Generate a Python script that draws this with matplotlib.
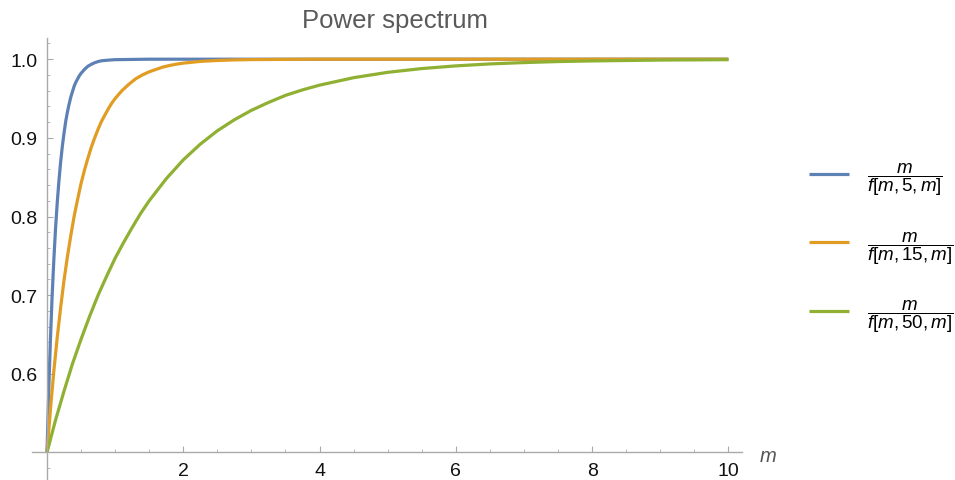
import numpy as np
import matplotlib
matplotlib.use("Agg")
import matplotlib.pyplot as plt
from matplotlib.ticker import FixedLocator

plt.rcParams["font.family"] = ["Liberation Sans", "DejaVu Sans"]
plt.rcParams["mathtext.fontset"] = "custom"
plt.rcParams["mathtext.rm"] = "Liberation Sans"
plt.rcParams["mathtext.it"] = "Liberation Sans:italic"

# values
m_blue = [0, 0.025, 0.05, 0.075, 0.1, 0.125, 0.15, 0.175, 0.2, 0.225, 0.25, 0.275, 0.3, 0.325, 0.35, 0.375,
          0.4, 0.425, 0.45, 0.475, 0.5, 0.55, 0.6, 0.65, 0.7, 0.75, 0.8, 0.9, 1.0, 1.5, 2, 4, 6, 8, 10]
v_blue = [0.5, 0.577, 0.642, 0.698, 0.744, 0.784, 0.817, 0.845, 0.869, 0.889, 0.906, 0.921, 0.933, 0.943, 0.952, 0.959,
          0.966, 0.971, 0.975, 0.979, 0.982, 0.987, 0.991, 0.9935, 0.9955, 0.997, 0.998, 0.9988, 0.9994, 1.0, 1.0, 1.0, 1.0, 1.0, 1.0]

m_orange = [0, 0.05, 0.1, 0.15, 0.2, 0.25, 0.3, 0.35, 0.4, 0.45, 0.5, 0.55, 0.6, 0.65, 0.7, 0.75, 0.8, 0.85, 0.9, 0.95,
            1.0, 1.1, 1.2, 1.3, 1.4, 1.5, 1.6, 1.7, 1.8, 1.9, 2.0, 2.25, 2.5, 2.75, 3, 3.5, 4, 6, 8, 10]
v_orange = [0.5, 0.554, 0.603, 0.646, 0.684, 0.719, 0.749, 0.776, 0.801, 0.822, 0.842, 0.859, 0.874, 0.888, 0.900, 0.911, 0.921, 0.929, 0.937, 0.944,
            0.950, 0.960, 0.968, 0.975, 0.980, 0.984, 0.987, 0.990, 0.992, 0.9937, 0.995, 0.9972, 0.9984, 0.9991, 0.9995, 0.9998, 1.0, 1.0, 1.0, 1.0]

m_green = [0, 0.125, 0.25, 0.375, 0.5, 0.625, 0.75, 0.875, 1.0, 1.125, 1.25, 1.375, 1.5, 1.625, 1.75, 1.875, 2.0,
           2.25, 2.5, 2.75, 3.0, 3.25, 3.5, 3.75, 4.0, 4.5, 5, 5.5, 6, 6.5, 7, 7.5, 8, 9, 10]
v_green = [0.5, 0.541, 0.578, 0.613, 0.644, 0.673, 0.700, 0.724, 0.747, 0.767, 0.786, 0.804, 0.820, 0.834, 0.848, 0.860, 0.872,
           0.892, 0.909, 0.923, 0.935, 0.945, 0.954, 0.961, 0.967, 0.9765, 0.9833, 0.9881, 0.9915, 0.994, 0.9957, 0.997, 0.9978, 0.9989, 0.9994]

labels = [r"$\dfrac{m}{f[m,5,m]}$", r"$\dfrac{m}{f[m,15,m]}$", r"$\dfrac{m}{f[m,50,m]}$"]
colors = ["#5E81B5", "#E19C24", "#8FB032"]

fig = plt.figure(figsize=(9.55, 4.81), dpi=100)
ax = fig.add_axes([0.0335, 0.0, 0.7435, 0.919])

for xs, ys, c, lab in zip([m_blue, m_orange, m_green], [v_blue, v_orange, v_green], colors, labels):
    ax.plot(xs, ys, color=c, lw=2.3, label=lab, solid_capstyle="butt", solid_joinstyle="round", clip_on=False)

ax.set_xlim(-0.22, 10.2)
ax.set_ylim(0.465, 1.027)

for s in ["top", "right"]:
    ax.spines[s].set_visible(False)
ax.spines["left"].set_position(("data", 0))
ax.spines["bottom"].set_position(("data", 0.5))
for s in ["left", "bottom"]:
    ax.spines[s].set_color("#aaaaaa")
    ax.spines[s].set_linewidth(1.0)

ax.set_xticks([2, 4, 6, 8, 10])
ax.set_yticks([0.6, 0.7, 0.8, 0.9, 1.0])
ax.set_yticklabels(["0.6", "0.7", "0.8", "0.9", "1.0"])
ax.xaxis.set_minor_locator(FixedLocator([0.5, 1, 1.5, 2.5, 3, 3.5, 4.5, 5, 5.5, 6.5, 7, 7.5, 8.5, 9, 9.5]))
ax.yaxis.set_minor_locator(FixedLocator([round(0.48 + 0.02 * i, 2) for i in range(28) if round(0.48 + 0.02 * i, 2) not in (0.5, 0.6, 0.7, 0.8, 0.9, 1.0)]))
ax.tick_params(which="both", direction="in", color="#aaaaaa", labelsize=14, labelcolor="#111111")
ax.tick_params(axis="x", which="major", length=4, width=0.8, pad=7)
ax.tick_params(axis="x", which="minor", length=2.5, width=0.6)
ax.tick_params(axis="y", which="major", length=4.5, width=0.8, pad=7)
ax.tick_params(axis="y", which="minor", length=2.5, width=0.6)

ax.set_xlabel("m", style="italic", fontsize=14.5, color="#555555", ha="center", va="center")
ax.xaxis.set_label_coords(1.037, 0.056)

ax.set_title("Power spectrum", fontsize=18.5, color="#5a5a5a", pad=8, x=0.511)

ax.legend(loc="center left", bbox_to_anchor=(0.847, 0.484), bbox_transform=fig.transFigure,
          frameon=False, fontsize=13.5, borderpad=0, borderaxespad=0,
          handlelength=2.15, handletextpad=0.95, labelspacing=1.7)

fig.savefig("out.png", dpi=100)
